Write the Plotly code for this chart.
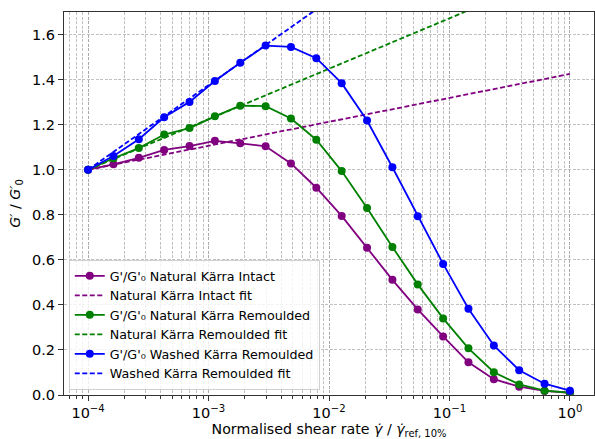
import plotly.graph_objects as go

shear_rate = [1.000e-4, 1.624e-4, 2.637e-4, 4.281e-4, 6.952e-4, 1.129e-3, 1.833e-3,
              2.976e-3, 4.833e-3, 7.848e-3, 1.274e-2, 2.069e-2, 3.360e-2, 5.456e-2,
              8.859e-2, 0.1438, 0.2336, 0.3793, 0.6158, 1.0]

natural_intact = [1.000, 1.024, 1.053, 1.088, 1.105, 1.128, 1.117, 1.104, 1.028, 0.920,
                  0.795, 0.654, 0.511, 0.380, 0.260, 0.145, 0.070, 0.037, 0.018, 0.010]
natural_remoulded = [1.000, 1.051, 1.096, 1.156, 1.185, 1.237, 1.284, 1.282, 1.227, 1.133,
                     0.994, 0.830, 0.657, 0.491, 0.340, 0.207, 0.101, 0.047, 0.019, 0.010]
washed_remoulded = [1.000, 1.061, 1.135, 1.233, 1.301, 1.394, 1.475, 1.551, 1.545, 1.495,
                    1.384, 1.218, 1.011, 0.793, 0.582, 0.383, 0.220, 0.110, 0.050, 0.019]

fit_x = [1e-4, 1.0]
fit_natural_intact = [1.0, 1.425]
fit_natural_remoulded = [1.0, 1.896]
fit_washed_remoulded = [1.0, 2.502]

x_tickvals = [1e-4, 1e-3, 1e-2, 1e-1, 1.0]
x_ticktext = ["10<sup>−4</sup>", "10<sup>−3</sup>", "10<sup>−2</sup>", "10<sup>−1</sup>", "10<sup>0</sup>"]

names = ["G'/G'\u2080 Natural Kärra Intact", "Natural Kärra Intact fit",
         "G'/G'\u2080 Natural Kärra Remoulded", "Natural Kärra Remoulded fit",
         "G'/G'\u2080 Washed Kärra Remoulded", "Washed Kärra Remoulded fit"]

colors = ["#800080", "#008000", "#0000ff"]
series = [natural_intact, natural_remoulded, washed_remoulded]
fits = [fit_natural_intact, fit_natural_remoulded, fit_washed_remoulded]

fig = go.Figure()
for i in range(3):
    fig.add_trace(go.Scatter(x=shear_rate, y=series[i], mode="lines+markers",
                             name=names[2 * i],
                             line=dict(color=colors[i], width=1.8),
                             marker=dict(color=colors[i], size=8)))
    fig.add_trace(go.Scatter(x=fit_x, y=fits[i], mode="lines", name=names[2 * i + 1],
                             line=dict(color=colors[i], width=1.8, dash="5px,2.5px")))

grid_col = "rgba(160,160,160,0.65)"
font = "DejaVu Sans"

fig.update_layout(
    width=595, height=439,
    margin=dict(l=64, r=1, t=12, b=44),
    paper_bgcolor="white", plot_bgcolor="white",
    font=dict(family=font, size=13, color="black"),
    showlegend=True,
    legend=dict(x=0.009, y=0.013, xanchor="left", yanchor="bottom",
                bgcolor="rgba(255,255,255,0.8)", bordercolor="#d0d0d0", borderwidth=1,
                font=dict(family=font, size=12.7), itemwidth=30,
                tracegroupgap=0),
)

fig.update_xaxes(
    type="log", range=[-4.2, 0.2], tickvals=x_tickvals, ticktext=x_ticktext,
    showline=True, linecolor="#333", linewidth=1, mirror=True,
    ticks="outside", ticklen=5, tickcolor="#333",
    showgrid=True, gridcolor=grid_col, griddash="3px,1.5px", gridwidth=0.8,
    minor=dict(dtick="D1", ticks="outside", ticklen=3, tickcolor="#333",
               showgrid=True, gridcolor=grid_col, griddash="3px,1.5px", gridwidth=0.8),
    zeroline=False, automargin=False,
    title=dict(text="Normalised shear rate <i>γ̇</i> / <i>γ̇</i><sub>ref, 10%</sub>",
               font=dict(size=14.2), standoff=4),
    tickfont=dict(size=14.5),
)
fig.update_yaxes(
    range=[0, 1.7], dtick=0.2, tickformat=".1f",
    showline=True, linecolor="#333", linewidth=1, mirror=True,
    ticks="outside", ticklen=5, tickcolor="#333",
    showgrid=True, gridcolor=grid_col, griddash="3px,1.5px", gridwidth=0.8,
    zeroline=False, automargin=False,
    title=dict(text="<i>G′</i> / <i>G′</i><sub>0</sub>", font=dict(size=14.2), standoff=8),
    tickfont=dict(size=14.5),
)

fig.write_html("out.html")
